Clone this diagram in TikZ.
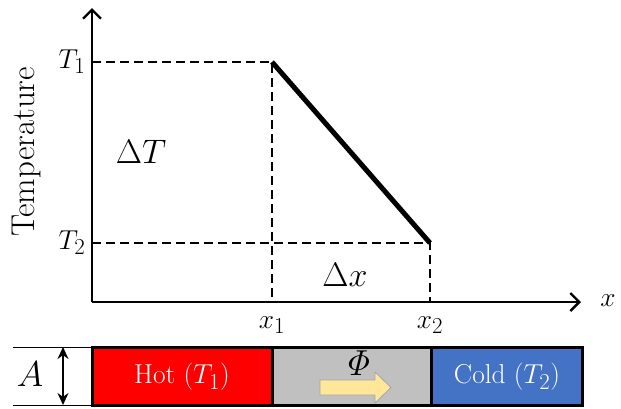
\documentclass[tikz,border=0pt]{standalone}
\usetikzlibrary{arrows.meta}
\definecolor{hotred}{HTML}{FF0000}
\definecolor{midgray}{HTML}{C0C0C0}
\definecolor{coldblue}{HTML}{4472C4}
\definecolor{arrowfill}{HTML}{FFE699}
\definecolor{arrowline}{HTML}{A6A6A6}
\tikzset{
  axis/.style={line width=2.4pt,-{Straight Barb[length=9pt,width=18pt,line width=2.4pt]}},
  guide/.style={line width=2.2pt,dash pattern=on 9pt off 5pt},
  profile/.style={line width=5pt},
  lbl/.style={inner sep=0pt,font=\Huge,scale=1.1},
  biglbl/.style={inner sep=0pt,font=\Huge,scale=1.367},
  seg/.style={draw=black,line width=3pt},
  inlbl/.style={inner sep=0pt,text=white,font=\Huge,scale=1.1},
}
\begin{document}
\begin{tikzpicture}[x=1pt,y=-1pt]
\useasboundingbox (0,0) rectangle (621,408);
% axes
\coordinate (O) at (92,302);
\coordinate (ytop) at (92,8);
\coordinate (xend) at (581,302);
\draw[axis] (O) -- (ytop);
\draw[axis] (O) -- (xend);
% key points
\coordinate (P1) at (272,62);
\coordinate (P2) at (430,243);
\coordinate (T1a) at (92,62);
\coordinate (T2a) at (92,243);
\coordinate (X1a) at (272,302);
\coordinate (X2a) at (430,302);
% guides
\draw[guide] (T1a) -- (P1) -- (X1a);
\draw[guide] (T2a) -- (P2) -- (X2a);
% profile
\draw[profile] (P1) -- (P2);
% labels
\node[lbl] (t1) at (72,62) {$T_1$};
\node[lbl] (t2) at (72,243) {$T_2$};
\node[inner sep=0pt,font=\fontsize{33}{35}\selectfont,rotate=90] (temp) at (26,152) {Temperature};
\node[biglbl] (dT) at (141,152) {$\Delta T$};
\node[biglbl] (dx) at (345,275) {$\Delta x$};
\node[lbl] (x1) at (272,325) {$x_1$};
\node[lbl] (x2) at (430,325) {$x_2$};
\node[lbl] (xl) at (608,301) {$x$};
% bar
\fill[hotred] (92,347) rectangle (272,405);
\fill[midgray] (272,347) rectangle (431,405);
\fill[coldblue] (431,347) rectangle (582,405);
\draw[seg] (92,347) rectangle (582,405);
\draw[seg] (272,347) -- (272,405);
\draw[seg] (431,347) -- (431,405);
\node[inlbl] (hot) at (182,377) {Hot ($T_1$)};
\node[inlbl] (cold) at (507,377) {Cold ($T_2$)};
\node[inner sep=0pt,font=\Huge,scale=1.45] (phi) at (357,363) {$\mathit{\Phi}$};
\draw[arrowline,fill=arrowfill,line width=0.8pt,line join=round]
  (320,380) -- (375,380) -- (375,372) -- (391,387.5) -- (375,403) -- (375,395) -- (320,395) -- cycle;
% dimension A
\coordinate (At) at (13,347);
\coordinate (Ab) at (13,405);
\coordinate (Bt) at (92,347);
\coordinate (Bb) at (92,405);
\draw[line width=1pt] (At) -- (Bt);
\draw[line width=1pt] (Ab) -- (Bb);
\coordinate (dimT) at (63,347);
\coordinate (dimB) at (63,405);
\draw[line width=1.2pt,{Stealth[length=12pt,width=11pt]}-{Stealth[length=12pt,width=11pt]}] (dimT) -- (dimB);
\node[inner sep=0pt,font=\Huge,scale=1.447] (A) at (30,374) {$A$};
\end{tikzpicture}
\end{document}
